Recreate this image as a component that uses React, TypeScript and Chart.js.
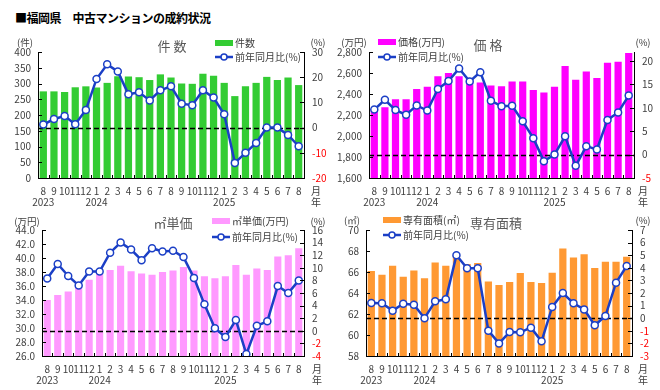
import React, { useEffect, useRef } from "react";
import { Chart, registerables } from "chart.js";
Chart.register(...registerables);

const months = ["8","9","10","11","12","1","2","3","4","5","6","7","8","9","10","11","12","1","2","3","4","5","6","7","8"];
const yearMarks: Record<number, string> = { 0: "2023", 5: "2024", 17: "2025" };

const countValues = [275,275,273,288,291,287,302,323,322,320,311,329,319,300,299,331,325,302,260,291,302,321,311,319,295];
const countYoY = [1.2,3.4,4.6,1.3,7.0,19.3,25.1,22.3,13.2,14.0,10.8,14.8,16.4,9.5,8.9,14.8,11.9,5.3,-14.0,-10.0,-6.1,0.0,0.0,-2.9,-7.4];

const priceValues = [2255,2275,2350,2350,2447,2469,2568,2600,2568,2540,2510,2482,2475,2520,2520,2437,2415,2469,2666,2536,2615,2552,2698,2708,2790];
const priceYoY = [9.6,11.7,9.5,8.5,10.5,9.4,14.0,15.7,18.4,15.6,17.6,11.5,10.3,10.4,7.1,3.5,-1.4,0.0,3.9,-2.4,1.8,1.1,7.4,9.0,12.6];

const unitPriceValues = [34.0,34.7,35.2,35.9,36.9,37.7,38.3,38.9,38.1,37.8,37.6,38.0,38.2,38.7,38.2,37.4,37.1,37.4,39.0,37.6,38.5,38.3,40.2,40.4,41.4];
const unitPriceYoY = [8.3,10.6,8.7,7.2,9.4,9.4,12.4,14.0,12.9,11.2,13.1,12.6,12.7,11.7,8.4,4.2,0.4,-1.0,1.7,-3.7,0.8,1.5,7.1,6.0,8.0];

const areaValues = [66.1,65.75,66.6,65.55,66.15,65.4,66.9,66.6,67.6,66.76,66.86,65.1,64.76,65.05,65.9,65.05,64.95,65.94,68.25,67.37,67.7,66.38,66.98,66.98,67.46];
const areaYoY = [1.2,1.18,0.6,1.15,1.07,0.0,1.34,1.5,4.99,3.96,3.96,-0.99,-2.0,-1.1,-1.12,-0.75,-1.83,0.89,2.0,1.18,0.7,-0.56,0.17,2.82,4.14];

const leftTicks1 = [0, 400, 50];
const rightTicks1 = [-20, 30, 10];
const leftTicks2 = [1600, 2800, 200];
const rightTicks2 = [-5, 21.9, 5];
const leftTicks3 = [26, 44, 2];
const rightTicks3 = [-4, 16, 2];
const leftTicks4 = [58, 70, 2];
const rightTicks4 = [-3, 7, 1];

const lineLabel = "前年同月比(%)";
const FONT = '"Noto Sans CJK JP", "Noto Sans", sans-serif';
const TXT = "#404040";
const BLUE = "#1b3fc6";

type Panel = {
  left: number; top: number; w: number; h: number;
  lw: number; rw: number; pt: number; xh: number;
  barLabel: string; barColor: string;
  bars: number[]; yoy: number[];
  lt: number[]; rt: number[];
  fmt: (v: number) => string;
  title: string; titleX: number; titleY: number;
  unitL: string; unitLX: number; unitY: number; unitRX: number;
  legX: number; legY1: number; legY2: number;
  mX: number; mY: number;
};

const panels: Panel[] = [
  {
    left: 0, top: 30, w: 330, h: 180, lw: 38, rw: 26, pt: 22, xh: 32,
    barLabel: "件数", barColor: "#33cc33", bars: countValues, yoy: countYoY,
    lt: leftTicks1, rt: rightTicks1, fmt: (v) => String(v),
    title: "件 数", titleX: 172, titleY: 46,
    unitL: "(件)", unitLX: 25, unitY: 42, unitRX: 318,
    legX: 215, legY1: 43, legY2: 57, mX: 316, mY: 191,
  },
  {
    left: 330, top: 30, w: 330, h: 180, lw: 39, rw: 26, pt: 22, xh: 32,
    barLabel: "価格(万円)", barColor: "#ff00ff", bars: priceValues, yoy: priceYoY,
    lt: leftTicks2, rt: rightTicks2, fmt: (v) => v.toLocaleString("en-US"),
    title: "価 格", titleX: 488, titleY: 45,
    unitL: "(万円)", unitLX: 354, unitY: 42, unitRX: 643,
    legX: 378, legY1: 42, legY2: 57, mX: 643, mY: 191,
  },
  {
    left: 0, top: 208, w: 330, h: 180, lw: 42, rw: 26, pt: 22, xh: 32,
    barLabel: "㎡単価(万円)", barColor: "#ff99ff", bars: unitPriceValues, yoy: unitPriceYoY,
    lt: leftTicks3, rt: rightTicks3, fmt: (v) => v.toFixed(1),
    title: "㎡単価", titleX: 173, titleY: 223,
    unitL: "(万円)", unitLX: 27, unitY: 221, unitRX: 318,
    legX: 212, legY1: 221, legY2: 237, mX: 317, mY: 369,
  },
  {
    left: 330, top: 208, w: 330, h: 180, lw: 36, rw: 28, pt: 22, xh: 32,
    barLabel: "専有面積(㎡)", barColor: "#ff9933", bars: areaValues, yoy: areaYoY,
    lt: leftTicks4, rt: rightTicks4, fmt: (v) => String(v),
    title: "専有面積", titleX: 496, titleY: 223,
    unitL: "(㎡)", unitLX: 352, unitY: 220, unitRX: 643,
    legX: 383, legY1: 220, legY2: 235, mX: 643, mY: 369,
  },
];

function buildTicks(spec: number[]) {
  const [min, max, step] = spec;
  return (s: any) => {
    const out: any[] = [];
    for (let k = Math.ceil(min / step - 1e-9); k * step <= max + 1e-9; k++) {
      out.push({ value: Math.round(k * step * 1e6) / 1e6 });
    }
    s.ticks = out;
  };
}

function makeDecor(p: Panel) {
  const X = (x: number) => x - p.left;
  const Y = (y: number) => y - p.top;
  return {
    id: "decor",
    afterDatasetDraw(chart: any, args: any) {
      if (args.index !== 0) return;
      const ctx = chart.ctx;
      const ca = chart.chartArea;
      const y0 = Math.round(chart.scales.y2.getPixelForValue(0)) + 0.5;
      ctx.save();
      ctx.strokeStyle = "#000";
      ctx.lineWidth = 1.5;
      ctx.setLineDash([5, 3]);
      ctx.beginPath();
      ctx.moveTo(ca.left, y0);
      ctx.lineTo(ca.right, y0);
      ctx.stroke();
      ctx.restore();
    },
    afterDraw(chart: any) {
      const ctx = chart.ctx;
      const ca = chart.chartArea;
      ctx.save();
      ctx.strokeStyle = "#000";
      ctx.lineWidth = 1;
      const ys = chart.scales.y;
      ys.ticks.forEach((t: any) => {
        const y = Math.round(ys.getPixelForValue(t.value)) + 0.5;
        ctx.beginPath(); ctx.moveTo(ca.left, y); ctx.lineTo(ca.left + 4, y); ctx.stroke();
      });
      const y2 = chart.scales.y2;
      y2.ticks.forEach((t: any) => {
        const y = Math.round(y2.getPixelForValue(t.value)) + 0.5;
        ctx.beginPath(); ctx.moveTo(ca.right - 4, y); ctx.lineTo(ca.right, y); ctx.stroke();
      });
      const n = months.length;
      for (let i = 0; i <= n; i++) {
        const x = Math.round(ca.left + (i * (ca.right - ca.left)) / n) + 0.5;
        ctx.beginPath(); ctx.moveTo(x, ca.bottom); ctx.lineTo(x, ca.bottom - 3); ctx.stroke();
      }
      // texts
      ctx.textBaseline = "middle";
      ctx.textAlign = "center";
      ctx.font = `13px ${FONT}`;
      ctx.fillStyle = "#595959";
      ctx.fillText(p.title, X(p.titleX), Y(p.titleY));
      ctx.fillStyle = TXT;
      ctx.font = `9.5px ${FONT}`;
      ctx.fillText(p.unitL, X(p.unitLX), Y(p.unitY));
      ctx.fillText("(%)", X(p.unitRX), Y(p.unitY));
      ctx.font = `10px ${FONT}`;
      ctx.fillText("月", X(p.mX), Y(p.mY));
      ctx.fillText("年", X(p.mX), Y(p.mY + 11));
      // legend
      const lx = X(p.legX);
      const l1 = Y(p.legY1);
      const l2 = Y(p.legY2);
      ctx.fillStyle = p.barColor;
      ctx.fillRect(lx, l1 - 3, 18, 6);
      ctx.strokeStyle = BLUE;
      ctx.lineWidth = 2.5;
      ctx.beginPath(); ctx.moveTo(lx, l2); ctx.lineTo(lx + 18, l2); ctx.stroke();
      ctx.beginPath(); ctx.arc(lx + 9, l2, 3, 0, Math.PI * 2);
      ctx.fillStyle = "#fff"; ctx.fill();
      ctx.lineWidth = 1.5; ctx.stroke();
      ctx.fillStyle = TXT;
      ctx.textAlign = "left";
      ctx.font = `10px ${FONT}`;
      ctx.fillText(p.barLabel, lx + 20, l1);
      ctx.fillText(lineLabel, lx + 20, l2);
      ctx.restore();
    },
  };
}

function PanelChart({ p }: { p: Panel }) {
  const ref = useRef<HTMLCanvasElement>(null);
  useEffect(() => {
    if (!ref.current) return;
    const labels = months.map((m, i) => (yearMarks[i] ? [m, yearMarks[i]] : m));
    const tickFont = { family: FONT, size: 10, lineHeight: 1.1 };
    const chart = new Chart(ref.current, {
      type: "bar",
      data: {
        labels,
        datasets: [
          {
            type: "bar",
            label: p.barLabel,
            data: p.bars,
            backgroundColor: p.barColor,
            yAxisID: "y",
            order: 1,
            categoryPercentage: 1,
            barPercentage: 0.68,
          },
          {
            type: "line",
            label: lineLabel,
            data: p.yoy,
            yAxisID: "y2",
            order: 0,
            borderColor: BLUE,
            borderWidth: 2.5,
            pointRadius: 3.5,
            pointBackgroundColor: "#fff",
            pointBorderColor: BLUE,
            pointBorderWidth: 1.5,
            tension: 0,
          },
        ],
      } as any,
      options: {
        responsive: false,
        animation: false,
        layout: { padding: { top: p.pt, left: 0, right: 0, bottom: 0 } },
        plugins: { legend: { display: false }, tooltip: { enabled: false }, title: { display: false } },
        scales: {
          x: {
            type: "category",
            offset: true,
            grid: { display: false, drawTicks: false },
            border: { display: true, color: "#000", width: 1 },
            ticks: { autoSkip: false, maxRotation: 0, padding: 8, color: TXT, font: tickFont },
            afterFit: (s: any) => { s.height = p.xh; },
          },
          y: {
            type: "linear",
            position: "left",
            min: p.lt[0], max: p.lt[1],
            grid: { display: false, drawTicks: false },
            border: { display: true, color: "#000", width: 1 },
            ticks: { autoSkip: false, padding: 7, color: TXT, font: tickFont, callback: (v: any) => p.fmt(Number(v)) },
            afterBuildTicks: buildTicks(p.lt),
            afterFit: (s: any) => { s.width = p.lw; },
          },
          y2: {
            type: "linear",
            position: "right",
            min: p.rt[0], max: p.rt[1],
            grid: { display: false, drawTicks: false },
            border: { display: true, color: "#000", width: 1 },
            ticks: {
              autoSkip: false,
              padding: 8, font: tickFont,
              color: (c: any) => (c.tick && c.tick.value < 0 ? "#ff0000" : TXT),
              callback: (v: any) => String(v),
            },
            afterBuildTicks: buildTicks(p.rt),
            afterFit: (s: any) => { s.width = p.rw; },
          },
        },
      } as any,
      plugins: [makeDecor(p)],
    });
    return () => chart.destroy();
  }, [p]);
  return (
    <canvas
      ref={ref}
      width={p.w}
      height={p.h}
      style={{ position: "absolute", left: p.left, top: p.top, width: p.w, height: p.h }}
    />
  );
}

export default function App() {
  return (
    <div style={{ position: "absolute", left: 0, top: 0, width: 660, height: 390, background: "#fff", overflow: "hidden" }}>
      <div
        style={{
          position: "absolute", left: 15, top: 10, fontFamily: FONT, fontWeight: 700,
          fontSize: 12, letterSpacing: -0.5, color: "#000", whiteSpace: "nowrap", lineHeight: "16px",
        }}
      >
        ■福岡県　中古マンションの成約状況
      </div>
      {panels.map((p, i) => (
        <PanelChart key={i} p={p} />
      ))}
    </div>
  );
}
